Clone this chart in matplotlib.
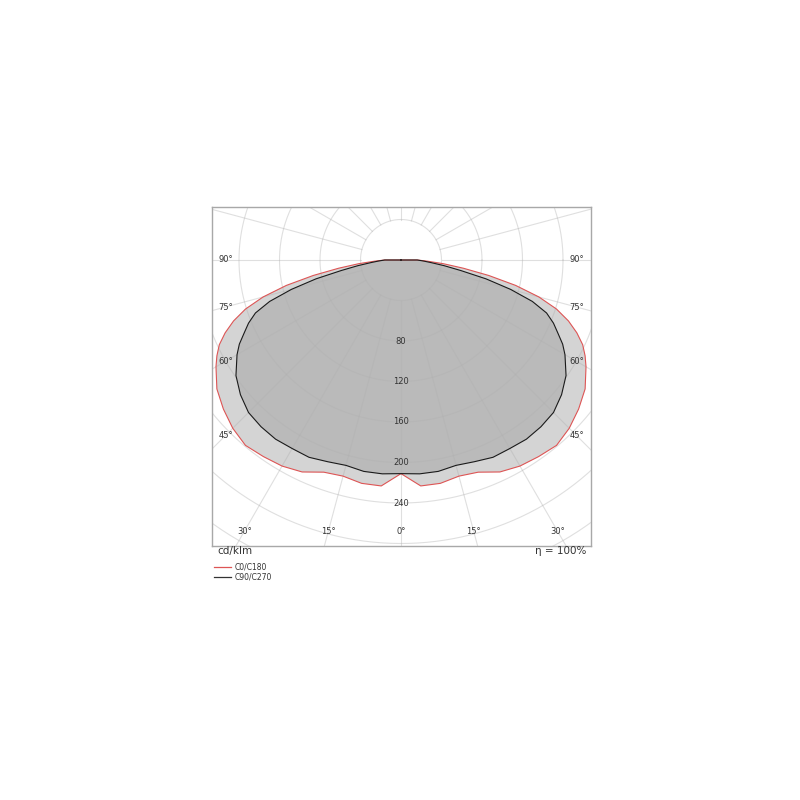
import numpy as np
import matplotlib.pyplot as plt
from matplotlib.lines import Line2D

# luminous intensity, cd/klm, gamma 0..90 (mirrored for both halves)
gamma = [0, 5, 10, 15, 20, 25, 30, 35, 40, 45, 50, 55, 60, 62.5, 65, 67.5, 70, 72.5, 75,
         77.5, 80, 82.5, 85, 87.5, 90]
c0_c180 = [211, 224, 224, 221, 223, 231, 235, 237, 239, 235, 229, 222, 211, 205, 198, 188,
           176, 161, 141, 116, 88, 62, 42, 26, 16]
c90_c270 = [211, 212, 212, 210, 212, 215, 215, 216, 215, 213, 207, 199, 187, 180, 171, 163,
            153, 136, 112, 86, 60, 43, 30, 22, 16]
ring_values = [80, 120, 160, 200, 240]
angle_ticks = [0, 15, 30, 45, 60, 75, 90]

px = 1.0125  # pixels per cd/klm
cx, cy = 401, 260

fig = plt.figure(figsize=(8, 8), dpi=100)
ax = fig.add_axes([212 / 800, 1 - 546 / 800, 379 / 800, 339 / 800])
ax.set_xlim(-(cx - 212) / px, (591 - cx) / px)
ax.set_ylim(-(546 - cy) / px, (cy - 207) / px)
ax.set_xticks([])
ax.set_yticks([])
for s in ax.spines.values():
    s.set_color('#a8a8a8')
    s.set_linewidth(1)


def outline(vals):
    g = np.radians(gamma)
    v = np.array(vals, dtype=float)
    xr = v * np.sin(g)
    yr = -v * np.cos(g)
    x = np.concatenate([[0], -xr[::-1], xr[1:], [0]])
    y = np.concatenate([[0], yr[::-1], yr[1:], [0]])
    return x, y


x0, y0 = outline(c0_c180)
x1, y1 = outline(c90_c270)
ax.fill(x0, y0, color='#d4d4d4', zorder=1, lw=0)
ax.fill(x1, y1, color='#bababa', zorder=1, lw=0)

# polar grid
t = np.linspace(0, 2 * np.pi, 400)
for r in range(40, 440, 40):
    ax.plot(r * np.cos(t), r * np.sin(t), color='#b0b0b0', alpha=0.4, lw=0.8, zorder=2)
for a in range(0, 360, 15):
    ra = np.radians(a)
    ax.plot([40 * np.cos(ra), 500 * np.cos(ra)], [40 * np.sin(ra), 500 * np.sin(ra)],
            color='#b0b0b0', alpha=0.4, lw=0.8, zorder=2)

ax.plot(x0, y0, color='#dd5555', lw=0.8, zorder=3)
ax.plot(x1, y1, color='#1a1a1a', lw=0.8, zorder=3)

# angle labels along the inner frame
hx, hy = 175.5 / px, 271 / px
for a in angle_ticks:
    ra = np.radians(a)
    sides = [1] if a == 0 else [-1, 1]
    for sgn in sides:
        d = min(hx / np.sin(ra) if np.sin(ra) > 1e-9 else 1e9,
                hy / np.cos(ra) if np.cos(ra) > 1e-9 else 1e9)
        ax.text(sgn * d * np.sin(ra), -d * np.cos(ra), f'{a}°', fontsize=6,
                ha='center', va='center', color='#333333', zorder=4)

for r in ring_values:
    ax.text(0, -r, str(r), fontsize=6, ha='center', va='center', color='#333333', zorder=4)

fig.text(217 / 800, 1 - 551 / 800, 'cd/klm', fontsize=7.5, ha='left', va='center', color='#333333')
fig.text(586 / 800, 1 - 551 / 800, 'η = 100%', fontsize=7.5, ha='right', va='center', color='#333333')

legend = [('C0/C180', '#dd5555', 567), ('C90/C270', '#333333', 577)]
for name, col, yy in legend:
    fig.add_artist(Line2D([214 / 800, 231 / 800], [1 - yy / 800] * 2, color=col, lw=0.9,
                          transform=fig.transFigure))
    fig.text(235 / 800, 1 - yy / 800, name, fontsize=5.5, ha='left', va='center', color='#333333')

fig.savefig('out.png', dpi=100)
